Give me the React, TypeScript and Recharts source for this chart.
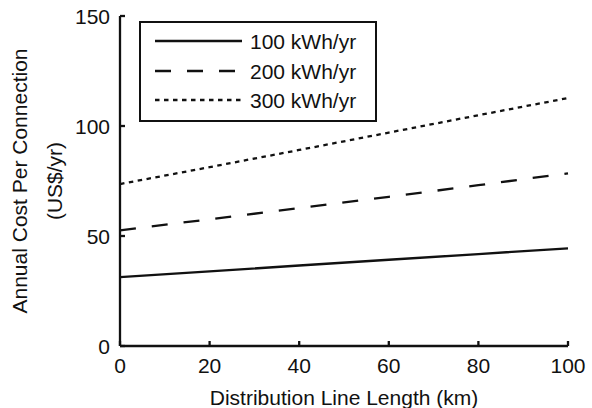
import React from 'react';
import { LineChart, Line, XAxis, YAxis, Legend, Label } from 'recharts';

const distanceKm = [0, 20, 40, 60, 80, 100];
const cost100 = [31.3, 33.9, 36.6, 39.2, 41.8, 44.4];
const cost200 = [52.6, 57.6, 62.7, 67.8, 73.1, 78.5];
const cost300 = [73.6, 81.3, 89.1, 97.0, 104.9, 112.7];
const xTicks = [0, 20, 40, 60, 80, 100];
const yTicks = [0, 50, 100, 150];
const seriesNames = ['100 kWh/yr', '200 kWh/yr', '300 kWh/yr'];
const xTitle = 'Distribution Line Length (km)';
const yTitle1 = 'Annual Cost Per Connection';
const yTitle2 = '(US$/yr)';

const data = distanceKm.map((d, i) => ({
  d,
  s100: cost100[i],
  s200: cost200[i],
  s300: cost300[i],
}));

const FONT = '"Liberation Sans", Arial, Helvetica, sans-serif';
const INK = '#111';
const dashes = ['', '16 16', '4.5 4.5'];
const keys = ['s100', 's200', 's300'];
const TICK_LEN = 5;
const LW = 2.3;

const BottomTick = (props: any) => {
  const { x, y, payload } = props;
  const axisY = y - 12;
  return (
    <g>
      <line x1={x} y1={axisY} x2={x} y2={axisY - TICK_LEN} stroke={INK} strokeWidth={LW} />
      <text x={x} y={y} dy="0.71em" textAnchor="middle" fontSize={21} fontFamily={FONT} fill={INK}>
        {payload.value}
      </text>
    </g>
  );
};

const LeftTick = (props: any) => {
  const { x, y, payload } = props;
  const axisX = x + 10;
  return (
    <g>
      <line x1={axisX} y1={y} x2={axisX + TICK_LEN} y2={y} stroke={INK} strokeWidth={LW} />
      <text x={x} y={y} dy="0.4em" textAnchor="end" fontSize={21} fontFamily={FONT} fill={INK}>
        {payload.value}
      </text>
    </g>
  );
};

const TopTick = (props: any) => {
  const { x, y } = props;
  return <line x1={x} y1={y} x2={x} y2={y + TICK_LEN} stroke={INK} strokeWidth={LW} />;
};

const RightTick = (props: any) => {
  const { x, y } = props;
  return <line x1={x} y1={y} x2={x - TICK_LEN} y2={y} stroke={INK} strokeWidth={LW} />;
};

const LegendBox = () => (
  <div
    style={{
      position: 'relative',
      width: 238,
      height: 101,
      border: `2.5px solid ${INK}`,
      boxSizing: 'border-box',
      background: '#fff',
      fontFamily: FONT,
      fontSize: 21,
      color: INK,
    }}
  >
    {seriesNames.map((name, i) => (
      <div key={name} style={{ position: 'absolute', left: 0, top: 18 + i * 29.5 - 14, height: 28, width: 233 }}>
        <svg width={90} height={28} style={{ position: 'absolute', left: 14, top: 0 }}>
          <line x1={0} y1={14} x2={87} y2={14} stroke={INK} strokeWidth={LW} strokeDasharray={dashes[i] || undefined} />
        </svg>
        <span style={{ position: 'absolute', left: 109, top: 1, lineHeight: '28px', whiteSpace: 'nowrap' }}>{name}</span>
      </div>
    ))}
  </div>
);

const YTitle = (props: any) => {
  const { viewBox } = props;
  const cy = viewBox.y + viewBox.height / 2;
  return (
    <g fontFamily={FONT} fontSize={21} fill={INK}>
      <text x={27} y={cy} textAnchor="middle" transform={`rotate(-90, 27, ${cy})`}>{yTitle1}</text>
      <text x={62} y={cy} textAnchor="middle" transform={`rotate(-90, 62, ${cy})`}>{yTitle2}</text>
    </g>
  );
};

const XTitle = (props: any) => {
  const { viewBox } = props;
  return (
    <text x={viewBox.x + viewBox.width / 2} y={viewBox.y + 59} textAnchor="middle" fontFamily={FONT} fontSize={21} fill={INK}>
      {xTitle}
    </text>
  );
};

export default function App() {
  return (
    <div style={{ position: 'absolute', left: 0, top: 0, width: 592, height: 408, background: '#fff' }}>
      <LineChart width={592} height={408} data={data} margin={{ top: 16, right: 24, left: 0, bottom: 0 }}>
        <XAxis
          dataKey="d"
          type="number"
          domain={[0, 100]}
          ticks={xTicks}
          height={62}
          tickSize={0}
          tickMargin={12}
          tick={BottomTick}
          axisLine={{ stroke: INK, strokeWidth: LW }}
          interval={0}
        >
          <Label content={XTitle} />
        </XAxis>
        <XAxis
          xAxisId="top"
          orientation="top"
          dataKey="d"
          type="number"
          domain={[0, 100]}
          ticks={xTicks}
          height={0}
          tickSize={0}
          tickMargin={0}
          tick={TopTick}
          axisLine={{ stroke: INK, strokeWidth: LW }}
          interval={0}
        />
        <YAxis
          type="number"
          domain={[0, 150]}
          ticks={yTicks}
          width={120}
          tickSize={0}
          tickMargin={10}
          tick={LeftTick}
          axisLine={{ stroke: INK, strokeWidth: LW }}
          interval={0}
        >
          <Label content={YTitle} />
        </YAxis>
        <YAxis
          yAxisId="right"
          orientation="right"
          type="number"
          domain={[0, 150]}
          ticks={yTicks}
          width={0}
          tickSize={0}
          tickMargin={0}
          tick={RightTick}
          axisLine={{ stroke: INK, strokeWidth: LW }}
          interval={0}
        />
        {keys.map((k, i) => (
          <Line
            key={k}
            dataKey={k}
            name={seriesNames[i]}
            type="linear"
            stroke={INK}
            strokeWidth={LW}
            strokeDasharray={dashes[i] || undefined}
            dot={false}
            activeDot={false}
            isAnimationActive={false}
          />
        ))}
        <Legend
          layout="vertical"
          align="center"
          verticalAlign="middle"
          content={LegendBox}
          wrapperStyle={{ left: 139, top: 21, width: 238, height: 101 }}
        />
      </LineChart>
    </div>
  );
}
